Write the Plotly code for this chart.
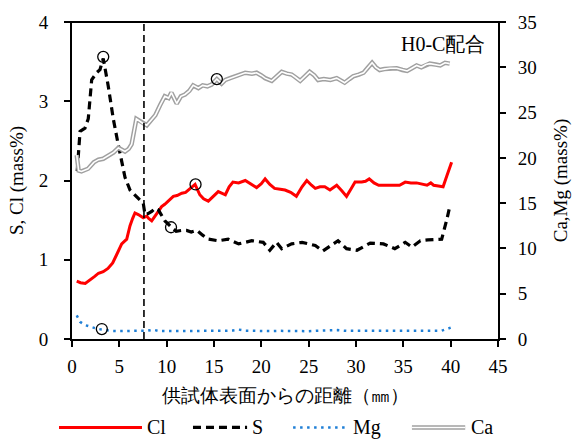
import plotly.graph_objects as go

# ---------------- data ----------------
cl_x = [0.5,0.9,1.4,1.9,2.4,2.8,3.3,3.8,4.3,4.7,5.0,5.25,5.78,6.13,6.4,6.65,7.0,7.3,7.53,7.89,8.1,8.42,8.7,8.95,9.2,9.47,9.8,10.17,10.4,10.7,11.1,11.6,12.0,12.4,12.64,13.0,13.5,13.9,14.4,14.9,15.45,16.2,16.6,17.0,17.6,18.3,18.9,19.5,20.0,20.4,20.9,21.4,22.0,22.5,23.1,23.7,24.3,24.8,25.3,25.7,26.2,26.7,27.25,27.96,28.5,29.0,29.5,29.9,30.6,31.0,31.4,31.9,32.4,33.5,34.6,35.2,35.8,36.4,37.0,37.5,37.9,38.2,38.7,39.2,39.6,40.1]
cl_y = [0.73,0.71,0.70,0.74,0.79,0.83,0.85,0.89,0.96,1.06,1.14,1.20,1.26,1.43,1.52,1.59,1.57,1.55,1.53,1.55,1.52,1.49,1.54,1.57,1.63,1.67,1.70,1.74,1.76,1.80,1.81,1.84,1.85,1.89,1.92,1.95,1.82,1.77,1.74,1.80,1.86,1.82,1.92,1.98,1.97,2.00,1.95,1.91,1.96,2.02,1.95,1.90,1.89,1.88,1.85,1.80,1.92,2.00,1.94,1.90,1.92,1.92,1.88,1.94,1.87,1.80,1.90,1.98,1.98,1.99,2.02,1.97,1.94,1.94,1.94,1.98,1.97,1.97,1.95,1.94,1.97,1.94,1.93,1.92,2.06,2.23]

s_x = [0.55,0.85,1.37,1.72,2.08,2.6,2.96,3.3,3.83,4.36,4.89,5.42,5.6,6.13,6.83,7.53,7.71,8.0,8.42,8.8,9.12,9.82,10.5,11.0,11.6,12.1,12.6,13.2,13.8,14.4,15.45,16.5,17.6,18.3,19.0,20.2,20.9,21.6,22.15,23.2,24.3,25.0,25.7,26.5,27.3,28.1,29.0,30.1,31.5,32.9,34.1,35.2,35.9,36.8,37.6,38.5,39.05,39.6,39.9]
s_y = [2.12,2.62,2.66,2.78,3.27,3.36,3.40,3.54,3.19,2.78,2.45,2.12,2.04,1.88,1.80,1.71,1.57,1.58,1.61,1.65,1.63,1.49,1.41,1.36,1.37,1.37,1.35,1.37,1.31,1.26,1.24,1.26,1.20,1.22,1.24,1.22,1.12,1.22,1.14,1.20,1.22,1.20,1.18,1.11,1.18,1.24,1.14,1.12,1.21,1.20,1.14,1.22,1.16,1.24,1.25,1.26,1.26,1.51,1.67]

mg_x = [0.5,0.85,1.37,2.08,2.6,3.1,3.6,4.2,5,6,7,8,8.6,9.2,10,11,12,13,14,15,16,17,17.6,18.3,19,20,21,22,23,24,25,26,27,28,29,30,31,32,33,34,35,36,37,38,39,40]
mg_y = [2.6,1.9,1.54,1.29,1.15,1.05,0.95,0.9,0.88,0.9,0.88,0.92,1.02,0.88,0.87,0.9,0.9,0.88,0.9,0.88,0.9,0.95,1.04,0.92,0.9,0.86,0.88,0.9,0.88,0.9,0.86,0.92,0.95,0.98,0.9,0.9,0.87,0.85,0.9,0.9,0.88,0.86,0.85,0.85,0.9,1.25]

ca_x = [0.5,0.7,1.0,1.7,2.3,2.8,3.3,3.8,4.4,4.9,5.3,5.6,6.0,6.3,6.8,7.2,7.5,7.9,8.3,8.8,9.3,9.8,10.2,10.5,11.06,11.5,11.94,12.4,12.8,13.35,13.8,14.3,14.75,15.3,15.8,16.2,16.7,17.5,18.3,19.0,19.5,20.0,20.4,21.1,21.6,22.15,22.7,23.2,23.6,24.1,24.6,25.1,25.6,26.0,26.6,27.3,27.96,28.4,28.8,29.3,29.7,30.3,30.8,31.2,31.7,32.1,32.5,33.0,33.6,34.3,34.9,35.4,35.9,36.4,36.9,37.4,37.8,38.4,38.9,39.4,39.9]
ca_y = [20.3,18.6,18.5,18.8,19.5,19.8,19.9,20.2,20.6,21.1,20.9,20.7,21.0,21.5,24.3,24.0,23.8,23.6,24.1,24.7,25.8,26.8,26.6,27.2,26.0,26.8,27.0,27.4,28.0,27.7,28.0,27.9,28.1,28.7,28.2,28.6,28.8,29.1,29.4,29.3,29.4,29.1,28.8,28.5,29.0,29.5,29.3,29.2,28.9,28.5,29.0,29.5,29.1,28.6,28.7,28.6,28.8,28.5,28.3,28.7,29.0,29.2,29.4,29.9,30.5,30.0,29.7,29.8,29.9,29.9,29.7,29.6,29.9,30.2,30.0,30.3,30.4,30.3,30.2,30.5,30.4]

mark_left_x = [3.3, 10.46, 13.05]
mark_left_y = [3.56, 1.41, 1.95]
mark_right_x = [15.3, 3.15]
mark_right_y = [28.7, 1.1]

boundary_x = 7.6

x_ticks = [0, 5, 10, 15, 20, 25, 30, 35, 40, 45]
yl_ticks = [0, 1, 2, 3, 4]
yr_ticks = [0, 5, 10, 15, 20, 25, 30, 35]

legend_names = ["Cl", "S", "Mg", "Ca"]

FONT = "Liberation Serif"

fig = go.Figure()

# Ca double line (grey outline + white core)
fig.add_trace(go.Scatter(x=ca_x, y=ca_y, yaxis="y2", mode="lines",
                         line=dict(color="#a0a0a0", width=4.5), showlegend=False, hoverinfo="skip"))
fig.add_trace(go.Scatter(x=ca_x, y=ca_y, yaxis="y2", mode="lines",
                         line=dict(color="white", width=1.6), showlegend=False, hoverinfo="skip"))
# Mg dotted
fig.add_trace(go.Scatter(x=mg_x, y=mg_y, yaxis="y2", mode="lines",
                         line=dict(color="#1f7fd6", width=2.5, dash="2.5px,4.5px"), showlegend=False))
# Cl red
fig.add_trace(go.Scatter(x=cl_x, y=cl_y, mode="lines",
                         line=dict(color="#ff0000", width=3), showlegend=False))
# S dashed
fig.add_trace(go.Scatter(x=s_x, y=s_y, mode="lines",
                         line=dict(color="black", width=3.2, dash="8px,5px"), showlegend=False))
# circles
fig.add_trace(go.Scatter(x=mark_left_x, y=mark_left_y, mode="markers",
                         marker=dict(symbol="circle-open", size=11, color="black", line=dict(width=1.3)),
                         showlegend=False))
fig.add_trace(go.Scatter(x=mark_right_x, y=mark_right_y, yaxis="y2", mode="markers",
                         marker=dict(symbol="circle-open", size=11, color="black", line=dict(width=1.3)),
                         showlegend=False))

shapes = [
    dict(type="line", xref="x", yref="paper", x0=boundary_x, x1=boundary_x, y0=0, y1=1,
         line=dict(color="black", width=1.6, dash="7px,4px")),
    dict(type="line", xref="paper", yref="paper", x0=-0.012, x1=1.012, y0=1, y1=1,
         line=dict(color="black", width=2)),
]

# manual legend
ly = -0.279
leg = [
    (legend_names[0], -0.0305, 0.1643, dict(color="#ff0000", width=3)),
    (legend_names[1], 0.284, 0.411, dict(color="black", width=3.2, dash="8px,5px")),
    (legend_names[2], 0.519, 0.648, dict(color="#1f7fd6", width=2.5, dash="2.5px,4.5px")),
    (legend_names[3], 0.798, 0.923, dict(color="#a0a0a0", width=4.5)),
]
annotations = []
for name, x0, x1, ln in leg:
    shapes.append(dict(type="line", xref="paper", yref="paper", x0=x0, x1=x1, y0=ly, y1=ly, line=ln))
    annotations.append(dict(x=x1 + 0.008, y=ly, xref="paper", yref="paper", text=name, showarrow=False,
                            xanchor="left", yanchor="middle", font=dict(family=FONT, size=20, color="black")))
shapes.append(dict(type="line", xref="paper", yref="paper", x0=0.798, x1=0.923, y0=ly, y1=ly,
                   line=dict(color="white", width=1.6)))

annotations.append(dict(x=0.975, y=0.93, xref="paper", yref="paper", text="H0-C配合", showarrow=False,
                        xanchor="right", yanchor="middle", font=dict(family=FONT, size=20, color="black")))

fig.update_layout(
    width=580, height=443,
    margin=dict(l=72, r=82, t=14, b=104),
    paper_bgcolor="white", plot_bgcolor="white",
    font=dict(family=FONT, size=19, color="black"),
    shapes=shapes, annotations=annotations,
    showlegend=False,
    xaxis=dict(range=[0, 45], tickvals=x_ticks, showline=True, linecolor="black", linewidth=2,
               ticks="outside", ticklen=6, tickwidth=1.5, tickcolor="black", showgrid=False, zeroline=False,
               ticklabelstandoff=3,
               title=dict(text="供試体表面からの距離（㎜）", font=dict(size=19), standoff=13)),
    yaxis=dict(range=[0, 4], tickvals=yl_ticks, showline=True, linecolor="black", linewidth=2,
               ticks="outside", ticklen=6, tickwidth=1.5, tickcolor="black", showgrid=False, zeroline=False,
               ticklabelstandoff=12,
               title=dict(text="S, Cl (mass%)", font=dict(size=19), standoff=10)),
    yaxis2=dict(range=[0, 35], tickvals=yr_ticks, overlaying="y", side="right", showline=True,
                linecolor="black", linewidth=2, ticks="outside", ticklen=6, tickwidth=1.5, tickcolor="black",
                showgrid=False, zeroline=False, ticklabelstandoff=8,
                title=dict(text="Ca,Mg (mass%)", font=dict(size=19), standoff=18)),
)

fig.write_html("out.html")
